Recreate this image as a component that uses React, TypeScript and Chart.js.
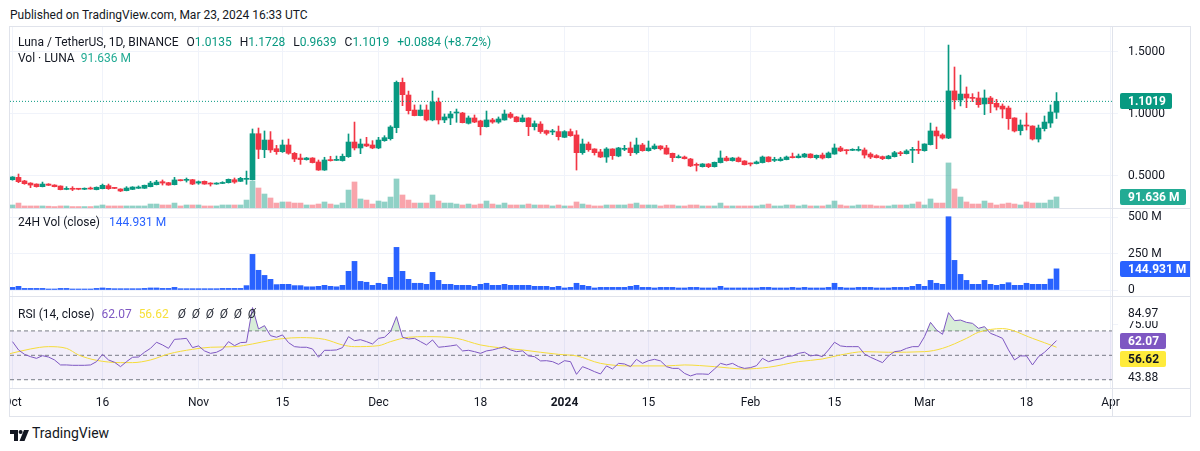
import React, { useEffect, useRef } from 'react';
import { Chart, registerables } from 'chart.js';

Chart.register(...registerables);

// ---------------- style constants ----------------
const FONT = "Roboto, 'Liberation Sans', Arial, sans-serif";
const TEXT = '#131722';
const UP = '#089981';
const DOWN = '#F23645';
const UP_VOL = 'rgba(8,153,129,0.45)';
const DOWN_VOL = 'rgba(242,54,69,0.45)';
const GRID = '#F0F3FA';
const FRAME = '#E0E3EB';
const VOL24_COLOR = '#2962FF';
const RSI_COLOR = '#7E57C2';
const RSI_MA_COLOR = '#F5DC3A';
const RSI_MA_BADGE = '#FFEB3B';
const RSI_MA_TEXT = '#F7E03B';
const BAND_COLOR = '#787B86';
const VOL_LEGEND_COLOR = '#22AB94';

// ---------------- data (daily, day 0 = 2023-10-01) ----------------
const opens = [
  0.470, 0.489, 0.460, 0.443, 0.435, 0.414, 0.435, 0.427, 0.419, 0.392,
  0.398, 0.395, 0.393, 0.400, 0.390, 0.398, 0.422, 0.406, 0.395, 0.382,
  0.392, 0.401, 0.401, 0.414, 0.430, 0.454, 0.446, 0.430, 0.468, 0.465,
  0.470, 0.443, 0.457, 0.443, 0.435, 0.440, 0.446, 0.470, 0.457, 0.473,
  0.4705, 0.841, 0.712, 0.790, 0.720, 0.696, 0.750, 0.683, 0.645, 0.632,
  0.645, 0.613, 0.548, 0.632, 0.626, 0.624, 0.656, 0.774, 0.726, 0.758,
  0.750, 0.726, 0.785, 0.801, 0.890, 1.255, 1.153, 1.032, 0.987, 1.032,
  0.952, 1.097, 0.952, 0.968, 1.008, 1.008, 0.925, 0.968, 0.944, 0.898,
  0.952, 0.935, 0.952, 1.000, 0.976, 0.938, 0.968, 0.898, 0.919, 0.866,
  0.855, 0.858, 0.812, 0.858, 0.831, 0.688, 0.758, 0.718, 0.694, 0.653,
  0.718, 0.661, 0.715, 0.726, 0.688, 0.750, 0.704, 0.720, 0.742, 0.726,
  0.683, 0.648, 0.653, 0.637, 0.594, 0.575, 0.597, 0.575, 0.608, 0.645,
  0.624, 0.645, 0.621, 0.602, 0.600, 0.608, 0.653, 0.626, 0.624, 0.632,
  0.653, 0.648, 0.653, 0.677, 0.648, 0.669, 0.648, 0.677, 0.726, 0.710,
  0.707, 0.707, 0.710, 0.677, 0.664, 0.656, 0.640, 0.656, 0.685, 0.680,
  0.707, 0.712, 0.704, 0.753, 0.863, 0.831, 0.806, 1.186, 1.113, 1.161,
  1.132, 1.129, 1.081, 1.129, 1.086, 1.064, 1.048, 0.968, 0.866, 0.911,
  0.903, 0.798, 0.882, 0.927, 1.0135,
];
const highs = [
  0.495, 0.516, 0.465, 0.446, 0.437, 0.451, 0.438, 0.430, 0.421, 0.414,
  0.414, 0.400, 0.404, 0.411, 0.412, 0.435, 0.435, 0.408, 0.397, 0.414,
  0.414, 0.420, 0.427, 0.457, 0.465, 0.468, 0.449, 0.489, 0.470, 0.484,
  0.473, 0.460, 0.460, 0.446, 0.446, 0.454, 0.476, 0.484, 0.489, 0.540,
  0.879, 0.887, 0.863, 0.858, 0.747, 0.790, 0.798, 0.690, 0.677, 0.650,
  0.648, 0.629, 0.651, 0.659, 0.661, 0.677, 0.839, 0.935, 0.798, 0.812,
  0.785, 0.812, 0.825, 0.906, 1.266, 1.290, 1.185, 1.073, 1.073, 1.073,
  1.185, 1.129, 1.000, 1.021, 1.040, 1.013, 0.984, 0.992, 0.950, 1.024,
  0.965, 0.976, 1.032, 1.013, 0.980, 0.992, 0.970, 0.944, 0.938, 0.870,
  0.876, 0.903, 0.866, 0.879, 0.866, 0.798, 0.774, 0.720, 0.715, 0.729,
  0.720, 0.731, 0.747, 0.774, 0.806, 0.763, 0.782, 0.758, 0.745, 0.747,
  0.685, 0.669, 0.661, 0.642, 0.605, 0.600, 0.600, 0.613, 0.702, 0.659,
  0.650, 0.653, 0.624, 0.605, 0.621, 0.661, 0.656, 0.651, 0.651, 0.661,
  0.685, 0.677, 0.683, 0.680, 0.670, 0.685, 0.694, 0.758, 0.739, 0.712,
  0.720, 0.737, 0.726, 0.688, 0.672, 0.661, 0.667, 0.699, 0.699, 0.712,
  0.731, 0.782, 0.760, 0.927, 0.895, 0.841, 1.556, 1.379, 1.314, 1.218,
  1.164, 1.177, 1.194, 1.142, 1.118, 1.081, 1.064, 0.970, 0.952, 1.008,
  0.905, 0.911, 0.984, 1.073, 1.1728,
];
const lows = [
  0.466, 0.446, 0.433, 0.406, 0.410, 0.412, 0.423, 0.412, 0.388, 0.389,
  0.382, 0.389, 0.390, 0.393, 0.388, 0.396, 0.392, 0.398, 0.374, 0.380,
  0.390, 0.399, 0.399, 0.412, 0.428, 0.427, 0.425, 0.428, 0.460, 0.451,
  0.430, 0.433, 0.433, 0.419, 0.433, 0.438, 0.443, 0.441, 0.455, 0.433,
  0.468, 0.640, 0.648, 0.690, 0.675, 0.690, 0.675, 0.616, 0.594, 0.628,
  0.605, 0.545, 0.545, 0.620, 0.624, 0.620, 0.650, 0.710, 0.680, 0.737,
  0.720, 0.720, 0.780, 0.790, 0.849, 1.067, 1.000, 0.985, 0.985, 0.944,
  0.945, 0.919, 0.930, 0.914, 0.933, 0.928, 0.919, 0.930, 0.831, 0.895,
  0.925, 0.925, 0.950, 0.965, 0.935, 0.935, 0.825, 0.871, 0.844, 0.831,
  0.833, 0.790, 0.810, 0.820, 0.548, 0.675, 0.699, 0.669, 0.648, 0.610,
  0.634, 0.655, 0.704, 0.664, 0.677, 0.700, 0.700, 0.715, 0.710, 0.675,
  0.616, 0.645, 0.637, 0.575, 0.540, 0.572, 0.567, 0.572, 0.605, 0.620,
  0.620, 0.613, 0.589, 0.581, 0.597, 0.605, 0.613, 0.616, 0.620, 0.630,
  0.645, 0.645, 0.650, 0.645, 0.637, 0.637, 0.645, 0.675, 0.696, 0.677,
  0.704, 0.701, 0.645, 0.640, 0.645, 0.632, 0.637, 0.653, 0.664, 0.677,
  0.608, 0.680, 0.700, 0.750, 0.720, 0.798, 0.801, 1.040, 1.065, 1.051,
  1.100, 1.054, 0.995, 1.011, 1.032, 0.968, 0.876, 0.855, 0.831, 0.871,
  0.790, 0.774, 0.863, 0.892, 0.9639,
];
const closes = [
  0.492, 0.454, 0.438, 0.427, 0.414, 0.435, 0.425, 0.414, 0.390, 0.398,
  0.393, 0.393, 0.398, 0.395, 0.409, 0.425, 0.398, 0.400, 0.379, 0.403,
  0.411, 0.411, 0.425, 0.443, 0.451, 0.443, 0.427, 0.468, 0.462, 0.470,
  0.435, 0.454, 0.435, 0.435, 0.443, 0.446, 0.473, 0.451, 0.481, 0.478,
  0.841, 0.715, 0.790, 0.710, 0.696, 0.750, 0.683, 0.637, 0.632, 0.645,
  0.608, 0.548, 0.629, 0.624, 0.632, 0.659, 0.774, 0.726, 0.758, 0.742,
  0.726, 0.790, 0.809, 0.895, 1.255, 1.156, 1.027, 0.987, 1.032, 0.952,
  1.097, 0.952, 0.976, 1.000, 1.013, 0.930, 0.968, 0.935, 0.898, 0.952,
  0.935, 0.960, 1.000, 0.973, 0.938, 0.968, 0.898, 0.922, 0.858, 0.844,
  0.860, 0.817, 0.858, 0.825, 0.688, 0.758, 0.712, 0.688, 0.653, 0.718,
  0.664, 0.726, 0.723, 0.688, 0.750, 0.704, 0.726, 0.742, 0.720, 0.677,
  0.648, 0.653, 0.640, 0.581, 0.586, 0.597, 0.575, 0.610, 0.645, 0.624,
  0.645, 0.616, 0.591, 0.597, 0.613, 0.653, 0.616, 0.634, 0.637, 0.653,
  0.648, 0.661, 0.677, 0.648, 0.667, 0.645, 0.685, 0.726, 0.702, 0.704,
  0.712, 0.712, 0.669, 0.653, 0.648, 0.640, 0.661, 0.688, 0.680, 0.702,
  0.712, 0.707, 0.758, 0.863, 0.823, 0.806, 1.186, 1.113, 1.161, 1.129,
  1.126, 1.075, 1.129, 1.083, 1.056, 1.040, 0.962, 0.863, 0.911, 0.903,
  0.798, 0.887, 0.935, 1.016, 1.1019,
];
// Volume overlay (LUNA, millions)
const volumes = [
  25, 41, 17, 17, 17, 17, 15, 12, 17, 17,
  12, 12, 12, 12, 17, 25, 17, 17, 17, 17,
  17, 17, 17, 33, 33, 25, 25, 41, 17, 25,
  25, 25, 17, 17, 17, 25, 25, 25, 25, 66,
  224, 166, 116, 83, 41, 50, 50, 41, 41, 25,
  25, 33, 50, 33, 25, 41, 149, 216, 75, 66,
  33, 58, 50, 91, 241, 108, 66, 41, 41, 41,
  108, 58, 41, 41, 33, 25, 33, 25, 33, 58,
  33, 25, 41, 25, 25, 25, 33, 25, 25, 25,
  17, 25, 17, 17, 50, 33, 25, 17, 17, 25,
  25, 25, 25, 33, 41, 25, 25, 25, 17, 25,
  25, 17, 17, 25, 25, 17, 17, 17, 41, 17,
  17, 17, 17, 17, 17, 25, 33, 17, 17, 25,
  25, 17, 25, 17, 17, 17, 25, 58, 25, 17,
  17, 25, 25, 25, 17, 17, 17, 25, 25, 25,
  33, 50, 25, 75, 41, 41, 374, 158, 91, 50,
  33, 33, 58, 41, 25, 33, 41, 33, 25, 50,
  41, 41, 41, 66, 91.636,
];
// 24H volume (USD, millions)
const vol24h = [
  18, 25, 11, 11, 11, 11, 7, 7, 11, 11,
  7, 7, 7, 7, 11, 14, 11, 9, 9, 9,
  9, 9, 11, 14, 14, 11, 11, 18, 9, 9,
  9, 9, 9, 9, 9, 11, 11, 11, 11, 30,
  244, 135, 100, 73, 37, 39, 39, 30, 30, 22,
  22, 25, 32, 25, 22, 32, 128, 196, 59, 53,
  32, 46, 39, 87, 292, 128, 73, 46, 46, 39,
  121, 66, 39, 39, 32, 32, 32, 25, 39, 46,
  32, 32, 39, 32, 32, 32, 32, 25, 25, 25,
  18, 25, 14, 18, 46, 32, 25, 14, 18, 18,
  18, 18, 18, 25, 32, 18, 18, 14, 18, 18,
  18, 14, 14, 18, 18, 14, 14, 14, 25, 14,
  14, 14, 14, 14, 14, 18, 18, 14, 14, 14,
  18, 14, 18, 14, 14, 14, 18, 46, 18, 14,
  14, 18, 18, 18, 14, 14, 14, 18, 18, 18,
  25, 39, 25, 66, 46, 39, 502, 203, 107, 66,
  39, 39, 66, 39, 32, 39, 50, 32, 32, 46,
  39, 39, 39, 75, 144.931,
];
// RSI(14)
const rsiValues = [
  61.2, 54.4, 50.8, 48.9, 47.5, 49.7, 48.6, 46.2, 42.1, 42.1,
  41.8, 41.8, 41.8, 42.1, 44.8, 50.8, 46.2, 44.3, 40.7, 44.8,
  48.4, 48.6, 52.5, 55.7, 60.7, 58.5, 55.7, 63.1, 63.4, 63.9,
  56.3, 57.7, 53.6, 51.6, 52.5, 54.9, 61.2, 57.9, 60.4, 60.7,
  89.1, 71.6, 74.3, 66.1, 64.8, 66.7, 60.4, 57.1, 56.6, 56.6,
  55.2, 48.4, 54.1, 54.1, 54.4, 56.3, 65.3, 62.0, 62.8, 61.2,
  59.3, 63.9, 64.8, 69.4, 81.7, 64.8, 63.4, 63.9, 61.2, 58.5,
  62.6, 56.6, 57.1, 57.7, 58.5, 53.6, 54.1, 53.0, 51.6, 53.6,
  54.4, 55.7, 57.1, 54.4, 53.0, 53.6, 49.5, 48.9, 45.4, 45.6,
  44.8, 42.6, 45.6, 44.8, 34.4, 40.7, 38.8, 36.6, 34.7, 41.3,
  38.8, 43.4, 42.9, 40.7, 46.7, 43.4, 45.6, 46.7, 45.4, 40.7,
  39.3, 39.3, 35.2, 33.1, 34.7, 34.7, 34.4, 38.8, 43.4, 42.1,
  43.4, 40.7, 39.3, 39.9, 41.5, 47.5, 44.8, 46.2, 47.0, 48.9,
  49.5, 51.6, 52.5, 49.5, 50.3, 48.9, 54.4, 60.7, 57.7, 57.1,
  57.1, 57.1, 51.1, 48.4, 46.2, 44.0, 49.5, 53.0, 53.6, 55.7,
  57.1, 57.1, 65.3, 77.0, 70.8, 67.2, 84.97, 78.4, 78.9, 77.0,
  76.2, 72.1, 73.5, 68.0, 66.1, 63.9, 54.4, 46.2, 49.5, 49.5,
  42.1, 48.9, 52.5, 57.1, 62.07,
];
// RSI-based moving average, read at these days
const rsiMaDays = [
  -0.4, 3, 6, 9, 11, 14, 18, 20, 23, 26, 30, 33, 37, 40, 43, 45, 48, 52, 55, 57,
  61, 63, 66, 69, 74, 78, 81, 85, 88, 91, 94, 98, 103, 109, 112, 117, 122, 126, 131, 135,
  138, 142, 146, 152, 155, 159, 161, 165, 170, 174,
];
const rsiMaValues = [
  51.4, 55.2, 57.1, 55.7, 50.3, 45.9, 44.0, 44.0, 46.2, 51.1, 54.9, 56.6, 57.1, 59.3, 62.3, 63.7, 64.5, 63.1, 58.5, 57.1,
  57.9, 61.2, 64.8, 65.3, 63.9, 58.5, 56.3, 54.4, 52.5, 50.8, 49.5, 43.4, 41.3, 41.3, 42.1, 40.7, 38.8, 40.2, 44.8, 47.0,
  50.3, 53.0, 52.5, 53.0, 55.7, 63.9, 68.9, 71.9, 63.9, 56.62,
];

// axis ticks
const xTickDays = [0, 15, 31, 45, 61, 78, 92, 106, 123, 137, 152, 169, 183];
const xTickLabels = ['Oct', '16', 'Nov', '15', 'Dec', '18', '2024', '15', 'Feb', '15', 'Mar', '18', 'Apr'];
const priceTicks = [0.5, 1.0, 1.5];
const priceTickLabels = ['0.5000', '1.0000', '1.5000'];
const volTicks = [0, 250, 500];
const volTickLabels = ['0', '250 M', '500 M'];
const rsiTicks = [75];
const rsiTickLabels = ['75.00'];
const rsiBands = [70, 50, 30];

// texts
const publishedText = 'Published on TradingView.com, Mar 23, 2024 16:33 UTC';
const symbolTitle = 'Luna / TetherUS, 1D, BINANCE';
const ohlcKeys = ['O', 'H', 'L', 'C'];
const ohlcTexts = ['1.0135', '1.1728', '0.9639', '1.1019'];
const changeText = '+0.0884 (+8.72%)';
const volTitle = 'Vol · LUNA';
const volLastText = '91.636 M';
const vol24Title = '24H Vol (close)';
const vol24LastText = '144.931 M';
const rsiTitle = 'RSI (14, close)';
const rsiLastText = '62.07';
const rsiMaLastText = '56.62';
const rsiHiddenPlots = ['Ø', 'Ø', 'Ø', 'Ø', 'Ø', 'Ø'];
const rsiUpperValue = 84.97;
const rsiLowerValue = 43.88;

// ---------------- geometry ----------------
const CANVAS_LEFT = 10;
const CANVAS_W = 1180;
const AXIS_W = 78;
const PX_PER_DAY = 6;
const X_MIN = -0.5 + 1 / 12;
const X_MAX = X_MIN + (CANVAS_W - AXIS_W) / PX_PER_DAY;

const days = closes.map((_, i) => i);
const candleColors = days.map((i) => (closes[i] >= opens[i] ? UP : DOWN));
const volColors = days.map((i) => (closes[i] >= opens[i] ? UP_VOL : DOWN_VOL));
const lastClose = closes[closes.length - 1];
const lastVol = volumes[volumes.length - 1];
const lastVol24 = vol24h[vol24h.length - 1];
const lastRsi = rsiValues[rsiValues.length - 1];
const lastRsiMa = rsiMaValues[rsiMaValues.length - 1];

type Badge = { axis: string; value: number; text: string; bg: string; fg: string; bold?: boolean };

function roundRect(ctx: CanvasRenderingContext2D, x: number, y: number, w: number, h: number, r: number) {
  ctx.beginPath();
  ctx.moveTo(x + r, y);
  ctx.lineTo(x + w - r, y);
  ctx.quadraticCurveTo(x + w, y, x + w, y + r);
  ctx.lineTo(x + w, y + h - r);
  ctx.quadraticCurveTo(x + w, y + h, x + w - r, y + h);
  ctx.lineTo(x + r, y + h);
  ctx.quadraticCurveTo(x, y + h, x, y + h - r);
  ctx.lineTo(x, y + r);
  ctx.quadraticCurveTo(x, y, x + r, y);
  ctx.closePath();
}

function badgePlugin(badges: Badge[]) {
  return {
    id: 'axisBadges',
    afterDraw(chart: any) {
      const { ctx, chartArea } = chart;
      const h = 16;
      const items = badges
        .map((b) => ({ ...b, y: chart.scales[b.axis].getPixelForValue(b.value) }))
        .sort((a, b) => a.y - b.y);
      let prevBottom = -1e9;
      ctx.save();
      ctx.textBaseline = 'middle';
      ctx.textAlign = 'left';
      for (const it of items) {
        const y = Math.max(it.y, prevBottom + 2 + h / 2);
        const top = Math.round(y - h / 2);
        const x = chartArea.right + 8;
        ctx.font = `${it.bold === false ? 'normal' : 'bold'} 12px ${FONT}`;
        const w = Math.ceil(ctx.measureText(it.text).width) + 14;
        ctx.fillStyle = it.bg;
        roundRect(ctx, x, top, w, h, 2);
        ctx.fill();
        ctx.fillStyle = it.fg;
        ctx.fillText(it.text, x + 8, top + h / 2 + 0.5);
        prevBottom = top + h;
      }
      ctx.restore();
    },
  };
}

function xAxis(showLabels: boolean): any {
  return {
    type: 'linear',
    position: 'bottom',
    min: X_MIN,
    max: X_MAX,
    bounds: 'data',
    offset: false,
    grid: { color: GRID, lineWidth: 1, drawTicks: false, offset: false },
    border: { display: false },
    afterBuildTicks: (a: any) => {
      a.ticks = xTickDays.map((v) => ({ value: v }));
    },
    ticks: {
      display: showLabels,
      autoSkip: false,
      maxRotation: 0,
      minRotation: 0,
      padding: 8,
      color: TEXT,
      font: (c: any) => ({ family: FONT, size: 12, weight: xTickLabels[c.index] === '2024' ? 'bold' : 'normal' }),
      callback: (_v: any, i: number) => xTickLabels[i],
    },
    afterFit: (a: any) => {
      a.paddingLeft = 0;
      a.paddingRight = 0;
      a.height = showLabels ? 28 : 0;
    },
  };
}

function yAxis(min: number, max: number, ticks: number[], labels: string[], gridOnArea: boolean): any {
  return {
    type: 'linear',
    position: 'right',
    min,
    max,
    bounds: 'data',
    grid: { color: GRID, drawOnChartArea: gridOnArea, drawTicks: true, tickLength: 6, tickColor: GRID },
    border: { display: false },
    afterBuildTicks: (a: any) => {
      a.ticks = ticks.map((v) => ({ value: v }));
    },
    ticks: {
      color: TEXT,
      font: { family: FONT, size: 12 },
      padding: 10,
      callback: (_v: any, i: number) => labels[i],
    },
    afterFit: (a: any) => {
      a.width = AXIS_W;
      a.paddingTop = 0;
      a.paddingBottom = 0;
    },
  };
}

const baseOptions = {
  responsive: false,
  maintainAspectRatio: false,
  animation: false,
  devicePixelRatio: 1,
  events: [],
  layout: { padding: 0 },
};

function priceConfig(): any {
  return {
    type: 'line',
    data: {
      datasets: [
        {
          type: 'line',
          data: [{ x: X_MIN, y: lastClose }, { x: X_MAX, y: lastClose }],
          borderColor: UP,
          borderWidth: 1,
          borderDash: [1, 2],
          pointRadius: 0,
          fill: false,
          yAxisID: 'y',
          order: -1,
        },
        {
          type: 'bar',
          data: days.map((i) => ({ x: i, y: [opens[i], closes[i]] })),
          backgroundColor: candleColors,
          barThickness: 5,
          minBarLength: 1,
          grouped: false,
          yAxisID: 'y',
          order: 0,
        },
        {
          type: 'bar',
          data: days.map((i) => ({ x: i, y: [lows[i], highs[i]] })),
          backgroundColor: candleColors,
          barThickness: 1,
          minBarLength: 1,
          grouped: false,
          yAxisID: 'y',
          order: 1,
        },
        {
          type: 'bar',
          data: days.map((i) => ({ x: i, y: volumes[i] })),
          backgroundColor: volColors,
          barThickness: 5,
          grouped: false,
          yAxisID: 'yv',
          order: 2,
        },
      ],
    },
    options: {
      ...baseOptions,
      plugins: { legend: { display: false }, tooltip: { enabled: false } },
      scales: {
        x: xAxis(false),
        y: yAxis(0.2419, 1.7016, priceTicks, priceTickLabels, true),
        yv: { type: 'linear', display: false, min: 0, max: 1502 },
      },
    },
    plugins: [
      badgePlugin([
        { axis: 'y', value: lastClose, text: lastClose.toFixed(4), bg: UP, fg: '#FFFFFF' },
        { axis: 'yv', value: lastVol, text: volLastText, bg: VOL_LEGEND_COLOR, fg: '#FFFFFF' },
      ]),
    ],
  };
}

function volConfig(): any {
  return {
    type: 'line',
    data: {
      datasets: [
        {
          type: 'bar',
          data: days.map((i) => ({ x: i, y: vol24h[i] })),
          backgroundColor: VOL24_COLOR,
          barThickness: 5,
          grouped: false,
          minBarLength: 1,
        },
      ],
    },
    options: {
      ...baseOptions,
      plugins: { legend: { display: false }, tooltip: { enabled: false } },
      scales: {
        x: xAxis(false),
        y: yAxis(-41.1, 554.9, volTicks, volTickLabels, true),
      },
    },
    plugins: [badgePlugin([{ axis: 'y', value: lastVol24, text: vol24LastText, bg: VOL24_COLOR, fg: '#FFFFFF' }])],
  };
}

function rsiConfig(): any {
  const band = (v: number) => [{ x: X_MIN, y: v }, { x: X_MAX, y: v }];
  return {
    type: 'line',
    data: {
      datasets: [
        {
          data: band(rsiBands[0]),
          borderColor: BAND_COLOR,
          borderWidth: 1,
          borderDash: [4, 3],
          pointRadius: 0,
          fill: '+2',
          backgroundColor: 'rgba(126,87,194,0.1)',
          order: 4,
        },
        {
          data: band(rsiBands[1]),
          borderColor: BAND_COLOR,
          borderWidth: 1,
          borderDash: [4, 3],
          pointRadius: 0,
          fill: false,
          order: 3,
        },
        {
          data: band(rsiBands[2]),
          borderColor: BAND_COLOR,
          borderWidth: 1,
          borderDash: [4, 3],
          pointRadius: 0,
          fill: false,
          order: 3,
        },
        {
          data: rsiMaDays.map((d, i) => ({ x: d, y: rsiMaValues[i] })),
          borderColor: RSI_MA_COLOR,
          borderWidth: 1,
          pointRadius: 0,
          cubicInterpolationMode: 'monotone',
          fill: false,
          order: 1,
        },
        {
          data: days.map((i) => ({ x: i, y: rsiValues[i] })),
          borderColor: RSI_COLOR,
          borderWidth: 1,
          pointRadius: 0,
          tension: 0,
          fill: { target: { value: rsiBands[0] }, above: 'rgba(76,175,80,0.22)', below: 'rgba(0,0,0,0)' },
          order: 0,
        },
      ],
    },
    options: {
      ...baseOptions,
      plugins: { legend: { display: false }, tooltip: { enabled: false } },
      scales: {
        x: xAxis(true),
        y: yAxis(23.2, 97.8, rsiTicks, rsiTickLabels, false),
      },
    },
    plugins: [
      badgePlugin([
        { axis: 'y', value: rsiUpperValue, text: rsiUpperValue.toFixed(2), bg: '#FFFFFF', fg: TEXT, bold: false },
        { axis: 'y', value: lastRsi, text: rsiLastText, bg: RSI_COLOR, fg: '#FFFFFF' },
        { axis: 'y', value: lastRsiMa, text: rsiMaLastText, bg: RSI_MA_BADGE, fg: TEXT },
        { axis: 'y', value: rsiLowerValue, text: rsiLowerValue.toFixed(2), bg: '#FFFFFF', fg: TEXT, bold: false },
      ]),
    ],
  };
}

function ChartCanvas({ top, height, make }: { top: number; height: number; make: () => any }) {
  const ref = useRef<HTMLCanvasElement>(null);
  useEffect(() => {
    const chart = new Chart(ref.current as HTMLCanvasElement, make());
    return () => chart.destroy();
  }, []);
  return (
    <canvas
      ref={ref}
      width={CANVAS_W}
      height={height}
      style={{ position: 'absolute', left: CANVAS_LEFT, top, width: CANVAS_W, height, display: 'block' }}
    />
  );
}

const rowStyle = (x: number, y: number, gap: number): React.CSSProperties => ({
  position: 'absolute',
  left: x,
  top: y - 8,
  height: 16,
  lineHeight: '16px',
  display: 'flex',
  gap,
  fontSize: 12,
  color: TEXT,
  whiteSpace: 'nowrap',
  fontFamily: FONT,
});

const line = (x: number, y: number, w: number, h: number): React.CSSProperties => ({
  position: 'absolute',
  left: x,
  top: y,
  width: w,
  height: h,
  background: FRAME,
});

export default function App() {
  return (
    <div
      style={{
        position: 'absolute',
        left: 0,
        top: 0,
        width: 1200,
        height: 451,
        background: '#FFFFFF',
        overflow: 'hidden',
        fontFamily: FONT,
      }}
    >
      <ChartCanvas top={27} height={181} make={priceConfig} />
      <ChartCanvas top={209} height={87} make={volConfig} />
      <ChartCanvas top={297} height={119} make={rsiConfig} />

      {/* frame and pane separators */}
      <div style={line(9, 26, 1182, 1)} />
      <div style={line(9, 416, 1182, 1)} />
      <div style={line(9, 26, 1, 391)} />
      <div style={line(1190, 26, 1, 391)} />
      <div style={line(1112, 26, 1, 390)} />
      <div style={line(9, 208, 1182, 1)} />
      <div style={line(9, 296, 1182, 1)} />
      <div style={line(9, 388, 1182, 1)} />

      {/* published line */}
      <div style={rowStyle(10, 15, 0)}>{publishedText}</div>

      {/* main legend */}
      <div style={rowStyle(18, 42, 8)}>
        <span>{symbolTitle}</span>
        {ohlcKeys.map((k, i) => (
          <span key={k}>
            {k}
            <span style={{ color: UP }}>{ohlcTexts[i]}</span>
          </span>
        ))}
        <span style={{ color: UP }}>{changeText}</span>
      </div>
      <div style={rowStyle(18, 58, 6)}>
        <span>{volTitle}</span>
        <span style={{ color: VOL_LEGEND_COLOR }}>{volLastText}</span>
      </div>

      {/* 24h volume legend */}
      <div style={rowStyle(18, 222, 9)}>
        <span>{vol24Title}</span>
        <span style={{ color: VOL24_COLOR }}>{vol24LastText}</span>
      </div>

      {/* RSI legend */}
      <div style={rowStyle(18, 314, 7)}>
        <span>{rsiTitle}</span>
        <span style={{ color: RSI_COLOR }}>{rsiLastText}</span>
        <span style={{ color: RSI_MA_TEXT }}>{rsiMaLastText}</span>
        <span style={{ display: 'flex', gap: 6, marginLeft: 2, fontStyle: 'italic', color: '#2A2E39' }}>
          {rsiHiddenPlots.map((s, i) => (
            <span key={i}>{s}</span>
          ))}
        </span>
      </div>

      {/* footer */}
      <div style={{ position: 'absolute', left: 10, top: 427 }}>
        <svg width="19" height="12" viewBox="0 0 19 12">
          <path d="M0 0 H8 V11 H4 V4 H0 Z" fill={TEXT} />
          <circle cx="10.6" cy="2" r="2" fill={TEXT} />
          <path d="M14 0 H19 L14.5 11 H9.5 Z" fill={TEXT} />
        </svg>
      </div>
      <div style={{ ...rowStyle(32, 433, 0), fontSize: 14 }}>TradingView</div>
    </div>
  );
}
